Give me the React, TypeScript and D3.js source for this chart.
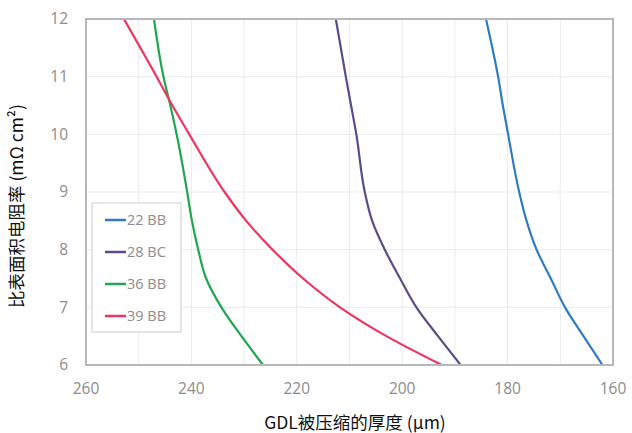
import * as d3 from "d3";
import { useEffect, useRef } from "react";

// y values shared by all curves (mΩ cm²)
const resistance = [12, 11, 10.5, 10, 9, 8.5, 8, 7.5, 7, 6.5, 6];

// thickness (µm) at each resistance level
const bb22 = [184.1, 181.8, 180.9, 179.9, 177.8, 176.4, 174.5, 171.8, 169.1, 165.6, 162.0];
const bc28 = [212.6, 210.7, 209.7, 208.7, 207.1, 205.7, 203.3, 200.4, 197.3, 193.2, 188.9];
const bb36 = [247.1, 245.3, 244.0, 242.8, 240.8, 239.9, 238.7, 237.2, 234.3, 230.5, 226.4];
const bb39 = [252.8, 246.6, 243.6, 240.4, 233.7, 229.6, 224.6, 218.8, 211.8, 203.0, 192.5];

const seriesNames = ["22 BB", "28 BC", "36 BB", "39 BB"];
const seriesColors = ["#2f7bc4", "#5c4a8c", "#1ea650", "#f0335f"];
const seriesValues = [bb22, bc28, bb36, bb39];

const xTicks = [260, 240, 220, 200, 180, 160];
const yTicks = [6, 7, 8, 9, 10, 11, 12];

const App = () => {
    const ref = useRef<SVGSVGElement>(null);

    useEffect(() => {
        const svg = d3.select(ref.current);
        svg.selectAll("*").remove();

        const left = 86, right = 613, top = 19, bottom = 365;
        const x = d3.scaleLinear().domain([260, 160]).range([left, right]);
        const y = d3.scaleLinear().domain([6, 12]).range([bottom, top]);

        const font = "'Open Sans', 'Noto Sans', sans-serif";
        const cjk = "'Noto Sans CJK SC', 'Noto Sans', sans-serif";

        // grid
        const grid = svg.append("g");
        grid.selectAll(".vg")
            .data(d3.range(170, 260, 10))
            .join("line")
            .attr("x1", (d) => x(d)).attr("x2", (d) => x(d))
            .attr("y1", top).attr("y2", bottom)
            .attr("stroke", "#ebebeb").attr("stroke-width", 1);
        grid.selectAll(".hg")
            .data(d3.range(7, 12, 1))
            .join("line")
            .attr("x1", left).attr("x2", right)
            .attr("y1", (d) => y(d)).attr("y2", (d) => y(d))
            .attr("stroke", "#ebebeb").attr("stroke-width", 1);

        // lines
        const line = d3.line<[number, number]>()
            .x((d) => x(d[0]))
            .y((d) => y(d[1]))
            .curve(d3.curveMonotoneY);

        svg.append("clipPath").attr("id", "plotClip")
            .append("rect")
            .attr("x", left).attr("y", top)
            .attr("width", right - left).attr("height", bottom - top);

        const lines = svg.append("g").attr("clip-path", "url(#plotClip)");
        seriesValues.forEach((vals, i) => {
            const pts: [number, number][] = vals.map((v, j) => [v, resistance[j]]);
            lines.append("path")
                .attr("d", line(pts))
                .attr("fill", "none")
                .attr("stroke", seriesColors[i])
                .attr("stroke-width", 2.2);
        });

        // frame
        svg.append("rect")
            .attr("x", left).attr("y", top)
            .attr("width", right - left).attr("height", bottom - top)
            .attr("fill", "none")
            .attr("stroke", "#b8b8b8")
            .attr("stroke-width", 2);

        // tick labels
        svg.append("g").selectAll("text")
            .data(yTicks)
            .join("text")
            .attr("x", 68)
            .attr("y", (d) => y(d))
            .attr("dy", "0.35em")
            .attr("text-anchor", "end")
            .attr("font-family", font)
            .attr("font-size", 15.5)
            .attr("fill", "#8c8c8c")
            .text((d) => d);

        svg.append("g").selectAll("text")
            .data(xTicks)
            .join("text")
            .attr("x", (d) => x(d))
            .attr("y", 389)
            .attr("dy", "0.35em")
            .attr("text-anchor", "middle")
            .attr("font-family", font)
            .attr("font-size", 15.5)
            .attr("fill", "#8c8c8c")
            .text((d) => d);

        // axis titles
        svg.append("text")
            .attr("transform", "translate(17,206) rotate(-90)")
            .attr("dy", "0.35em")
            .attr("text-anchor", "middle")
            .attr("font-family", cjk)
            .attr("font-size", 17.5)
            .attr("fill", "#111")
            .text("比表面积电阻率 (mΩ cm²)");

        svg.append("text")
            .attr("x", 355)
            .attr("y", 423)
            .attr("dy", "0.35em")
            .attr("text-anchor", "middle")
            .attr("font-family", cjk)
            .attr("font-size", 17.5)
            .attr("fill", "#111")
            .text("GDL被压缩的厚度 (µm)");

        // legend
        const legend = svg.append("g");
        legend.append("rect")
            .attr("x", 92).attr("y", 203)
            .attr("width", 89).attr("height", 129)
            .attr("fill", "#fff")
            .attr("stroke", "#d4d4d4")
            .attr("stroke-width", 1.2);
        seriesNames.forEach((name, i) => {
            const ly = 220 + i * 32;
            legend.append("line")
                .attr("x1", 105).attr("x2", 126)
                .attr("y1", ly).attr("y2", ly)
                .attr("stroke", seriesColors[i])
                .attr("stroke-width", 2.5);
            legend.append("text")
                .attr("x", 127)
                .attr("y", ly)
                .attr("dy", "0.35em")
                .attr("font-family", font)
                .attr("font-size", 14.5)
                .attr("fill", "#8c8c8c")
                .text(name);
        });
    }, []);

    return (
        <svg
            ref={ref}
            width={632}
            height={433}
            style={{ position: "absolute", left: 0, top: 0, background: "#fff" }}
        />
    );
};

export default App;
